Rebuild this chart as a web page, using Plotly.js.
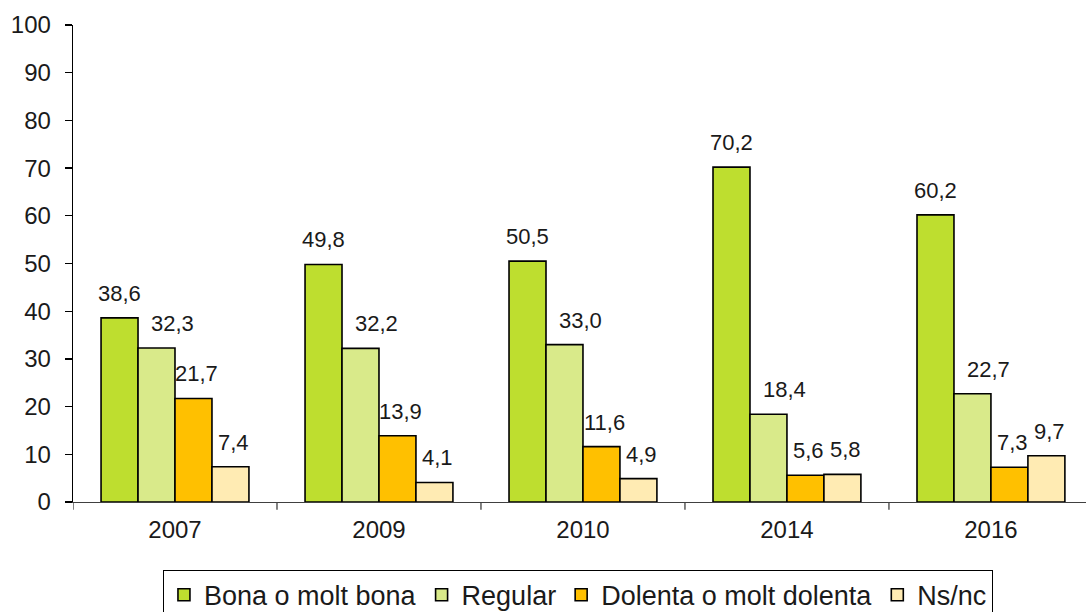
<!DOCTYPE html>
<html>
<head>
<meta charset="utf-8">
<script src="https://cdn.plot.ly/plotly-3.0.1.min.js"></script>
<style>html,body{margin:0;padding:0;background:#fff;}#chart{width:1086px;height:612px;}</style>
</head>
<body>
<div id="chart"></div>
<script>
const years = ['2007', '2009', '2010', '2014', '2016'];
const seriesNames = ['Bona o molt bona', 'Regular', 'Dolenta o molt dolenta', 'Ns/nc'];
const bona = [38.6, 49.8, 50.5, 70.2, 60.2];
const regular = [32.3, 32.2, 33.0, 18.4, 22.7];
const dolenta = [21.7, 13.9, 11.6, 5.6, 7.3];
const nsnc = [7.4, 4.1, 4.9, 5.8, 9.7];
const colors = ['#BEDE2F', '#D9EA8A', '#FFC000', '#FFEBB3'];

const allValues = [bona, regular, dolenta, nsnc];
const labelShift = [0, 16, 3, 3];
const fmt = v => v.toFixed(1).replace('.', ',');

const traces = allValues.map((vals, j) => ({
  type: 'bar',
  name: seriesNames[j],
  x: years.map((_, i) => i),
  y: vals,
  marker: {color: colors[j], line: {color: '#000', width: 1.6}},
  hoverinfo: 'none'
}));

const bargap = 0.275;
const bw = (1 - bargap) / 4;
const annotations = [];
allValues.forEach((vals, j) => {
  vals.forEach((v, i) => {
    annotations.push({
      x: i + (j - 1.5) * bw,
      y: v,
      xref: 'x', yref: 'y',
      text: fmt(v),
      showarrow: false,
      yanchor: 'bottom',
      yshift: 10,
      xshift: labelShift[j],
      font: {family: 'Liberation Sans, Arial, sans-serif', size: 22, color: '#1a1a1a'}
    });
  });
});

const layout = {
  width: 1086, height: 612,
  margin: {l: 73, r: 0, t: 25, b: 110, autoexpand: false},
  paper_bgcolor: '#fff', plot_bgcolor: '#fff',
  barmode: 'group',
  bargap: bargap,
  bargroupgap: 0,
  showlegend: true,
  font: {family: 'Liberation Sans, Arial, sans-serif', color: '#1a1a1a'},
  xaxis: {
    type: 'linear',
    range: [-0.5, 4.466],
    tickmode: 'array',
    tickvals: [0, 1, 2, 3, 4],
    ticktext: years,
    ticks: '',
    showline: true, linecolor: '#404040', linewidth: 1.3,
    showgrid: false, zeroline: false,
    tickfont: {size: 24, color: '#1a1a1a'},
    ticklabelstandoff: 6
  },
  yaxis: {
    range: [0, 100],
    dtick: 10,
    ticks: 'outside', ticklen: 7, tickcolor: '#000', tickwidth: 1.3,
    showline: true, linecolor: '#000', linewidth: 1.3,
    showgrid: false, zeroline: false,
    tickfont: {size: 24, color: '#1a1a1a'},
    ticklabelstandoff: 9
  },
  shapes: [0.5, 1.5, 2.5, 3.5].concat([-0.5]).map(xv => ({
    type: 'line', xref: 'x', yref: 'paper',
    x0: xv, x1: xv, y0: 0, y1: -0.016,
    line: {color: '#404040', width: 1.3}
  })),
  legend: {
    orientation: 'h',
    x: 0.0888, xanchor: 'left',
    y: -0.142, yanchor: 'top',
    bordercolor: '#000', borderwidth: 1,
    bgcolor: '#fff',
    font: {size: 27, color: '#1a1a1a'},
    itemwidth: 30,
    tracegroupgap: 0
  },
  annotations: annotations
};

Plotly.newPlot('chart', traces, layout, {displayModeBar: false, staticPlot: true});
</script>
</body>
</html>
